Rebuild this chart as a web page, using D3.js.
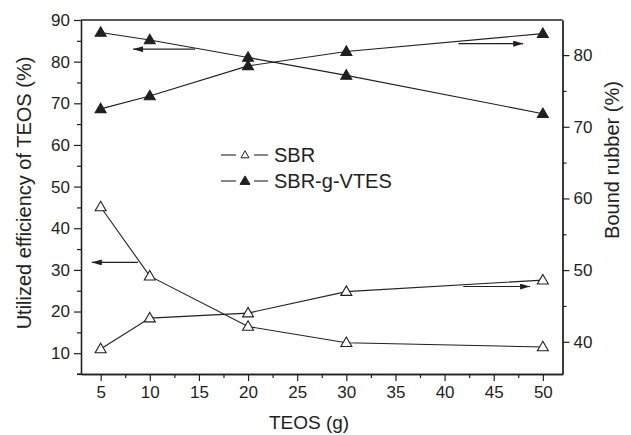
<!DOCTYPE html>
<html><head><meta charset="utf-8">
<script src="https://cdn.jsdelivr.net/npm/d3@7"></script>
<style>body{margin:0;background:#fff}svg{display:block}</style>
</head><body>
<svg id="c" width="631" height="435"></svg>
<script>
const teos = [5, 10, 20, 30, 50];
const sbrEff = [45.1, 28.5, 16.4, 12.5, 11.5];
const vtesEff = [87.0, 85.2, 81.0, 76.7, 67.5];
const sbrBound = [39.0, 43.3, 44.0, 47.0, 48.6];
const vtesBound = [72.5, 74.3, 78.5, 80.5, 83.0];
const xTicks = [5, 10, 15, 20, 25, 30, 35, 40, 45, 50];
const leftTicks = [10, 20, 30, 40, 50, 60, 70, 80, 90];
const rightTicks = [40, 50, 60, 70, 80];
const seriesNames = ["SBR", "SBR-g-VTES"];
// arrows: [x1, x2, y, axis]
const arrows = [
  [14.6, 8.3, 83.0, "left"],
  [41.4, 48.0, 81.6, "right"],
  [8.8, 4.1, 31.8, "left"],
  [41.9, 48.7, 47.7, "right"]
];

const ink = "#231f20";
const svg = d3.select("#c");
const L = 81, R = 562.5, T = 20, B = 374;
const x = d3.scaleLinear().domain([3, 52]).range([L, R]);
const yL = d3.scaleLinear().domain([5, 90]).range([B, T]);
const yR = d3.scaleLinear().domain([35.5, 84.9]).range([B, T]);
const font = "Arial, 'Liberation Sans', sans-serif";

svg.append("defs").append("marker").attr("id","ah").attr("viewBox","0 0 10 6")
  .attr("refX",10).attr("refY",3).attr("markerWidth",10).attr("markerHeight",6)
  .attr("markerUnits","userSpaceOnUse").attr("orient","auto")
  .append("path").attr("d","M0,0L10,3L0,6Z").attr("fill",ink);

// frame
svg.append("line").attr("x1",L).attr("x2",R).attr("y1",T).attr("y2",T).attr("stroke",ink).attr("stroke-width",1.3);

function styleAxis(g){
  g.select(".domain").attr("stroke",ink).attr("stroke-width",1.3);
  g.selectAll(".tick line").attr("stroke",ink).attr("stroke-width",1.2);
  g.selectAll("text").attr("fill",ink).attr("font-family",font).attr("font-size",17);
}
const minorX = d3.range(7.5, 50, 5);
svg.append("g").attr("transform",`translate(0,${B})`).call(d3.axisBottom(x).tickValues(minorX).tickSize(4).tickFormat("").tickSizeOuter(0)).call(styleAxis);
svg.append("g").attr("transform",`translate(0,${B})`).call(d3.axisBottom(x).tickValues(xTicks).tickSize(7).tickSizeOuter(0).tickPadding(5)).call(styleAxis);

svg.append("g").attr("transform",`translate(${L},0)`).call(d3.axisLeft(yL).tickValues(d3.range(5, 90, 10)).tickSize(4).tickFormat("").tickSizeOuter(0)).call(styleAxis);
svg.append("g").attr("transform",`translate(${L},0)`).call(d3.axisLeft(yL).tickValues(leftTicks).tickSize(7).tickSizeOuter(0).tickPadding(4)).call(styleAxis);

svg.append("g").attr("transform",`translate(${R},0)`).call(d3.axisRight(yR).tickValues([45,55,65,75]).tickSize(4).tickFormat("").tickSizeOuter(0)).call(styleAxis);
svg.append("g").attr("transform",`translate(${R},0)`).call(d3.axisRight(yR).tickValues(rightTicks).tickSize(7).tickSizeOuter(0).tickPadding(4)).call(styleAxis);

// bottom-left extension
svg.append("line").attr("x1",L-4).attr("x2",L).attr("y1",B).attr("y2",B).attr("stroke",ink).attr("stroke-width",1.3);

// titles
svg.append("text").attr("x",309).attr("y",429).attr("text-anchor","middle")
  .attr("font-family",font).attr("font-size",19).attr("fill",ink).text("TEOS (g)");
svg.append("text").attr("transform",`translate(31,193) rotate(-90)`).attr("text-anchor","middle")
  .attr("font-family",font).attr("font-size",20).attr("fill",ink).text("Utilized efficiency of TEOS (%)");
svg.append("text").attr("transform",`translate(619,160) rotate(-90)`).attr("text-anchor","middle")
  .attr("font-family",font).attr("font-size",20).attr("fill",ink).text("Bound rubber (%)");

function tri(w,h){return `M0,${-h*0.6}L${w/2},${h*0.4}L${-w/2},${h*0.4}Z`;}

const series = [
  {v: sbrEff, y: yL, filled:false},
  {v: sbrBound, y: yR, filled:false},
  {v: vtesEff, y: yL, filled:true},
  {v: vtesBound, y: yR, filled:true}
];
series.forEach(s=>{
  const pts = teos.map((t,i)=>[x(t), s.y(s.v[i])]);
  svg.append("path").attr("d", d3.line()(pts)).attr("fill","none").attr("stroke",ink).attr("stroke-width",1.1);
  svg.selectAll(null).data(pts).enter().append("path")
    .attr("transform",d=>`translate(${d[0]},${d[1]})`)
    .attr("d", tri(11,9.5))
    .attr("fill", s.filled?ink:"#fff").attr("stroke",ink).attr("stroke-width",1.1);
});

arrows.forEach(a=>{
  const sc = a[3]==="left"?yL:yR;
  svg.append("line").attr("x1",x(a[0])).attr("x2",x(a[1])).attr("y1",sc(a[2])).attr("y2",sc(a[2]))
    .attr("stroke",ink).attr("stroke-width",1.1).attr("marker-end","url(#ah)");
});

// legend
seriesNames.forEach((n,i)=>{
  const cy = 155 + i*26;
  const g = svg.append("g");
  g.append("line").attr("x1",221).attr("x2",236).attr("y1",cy).attr("y2",cy).attr("stroke",ink).attr("stroke-width",1.1);
  g.append("line").attr("x1",254).attr("x2",268).attr("y1",cy).attr("y2",cy).attr("stroke",ink).attr("stroke-width",1.1);
  g.append("path").attr("transform",`translate(245,${cy})`).attr("d",tri(i?10:8,i?8.5:7))
    .attr("fill", i?ink:"#fff").attr("stroke",ink).attr("stroke-width",1);
  g.append("text").attr("x",274).attr("y",cy+7).attr("font-family",font).attr("font-size",20).attr("fill",ink).text(n);
});
</script>
</body></html>
